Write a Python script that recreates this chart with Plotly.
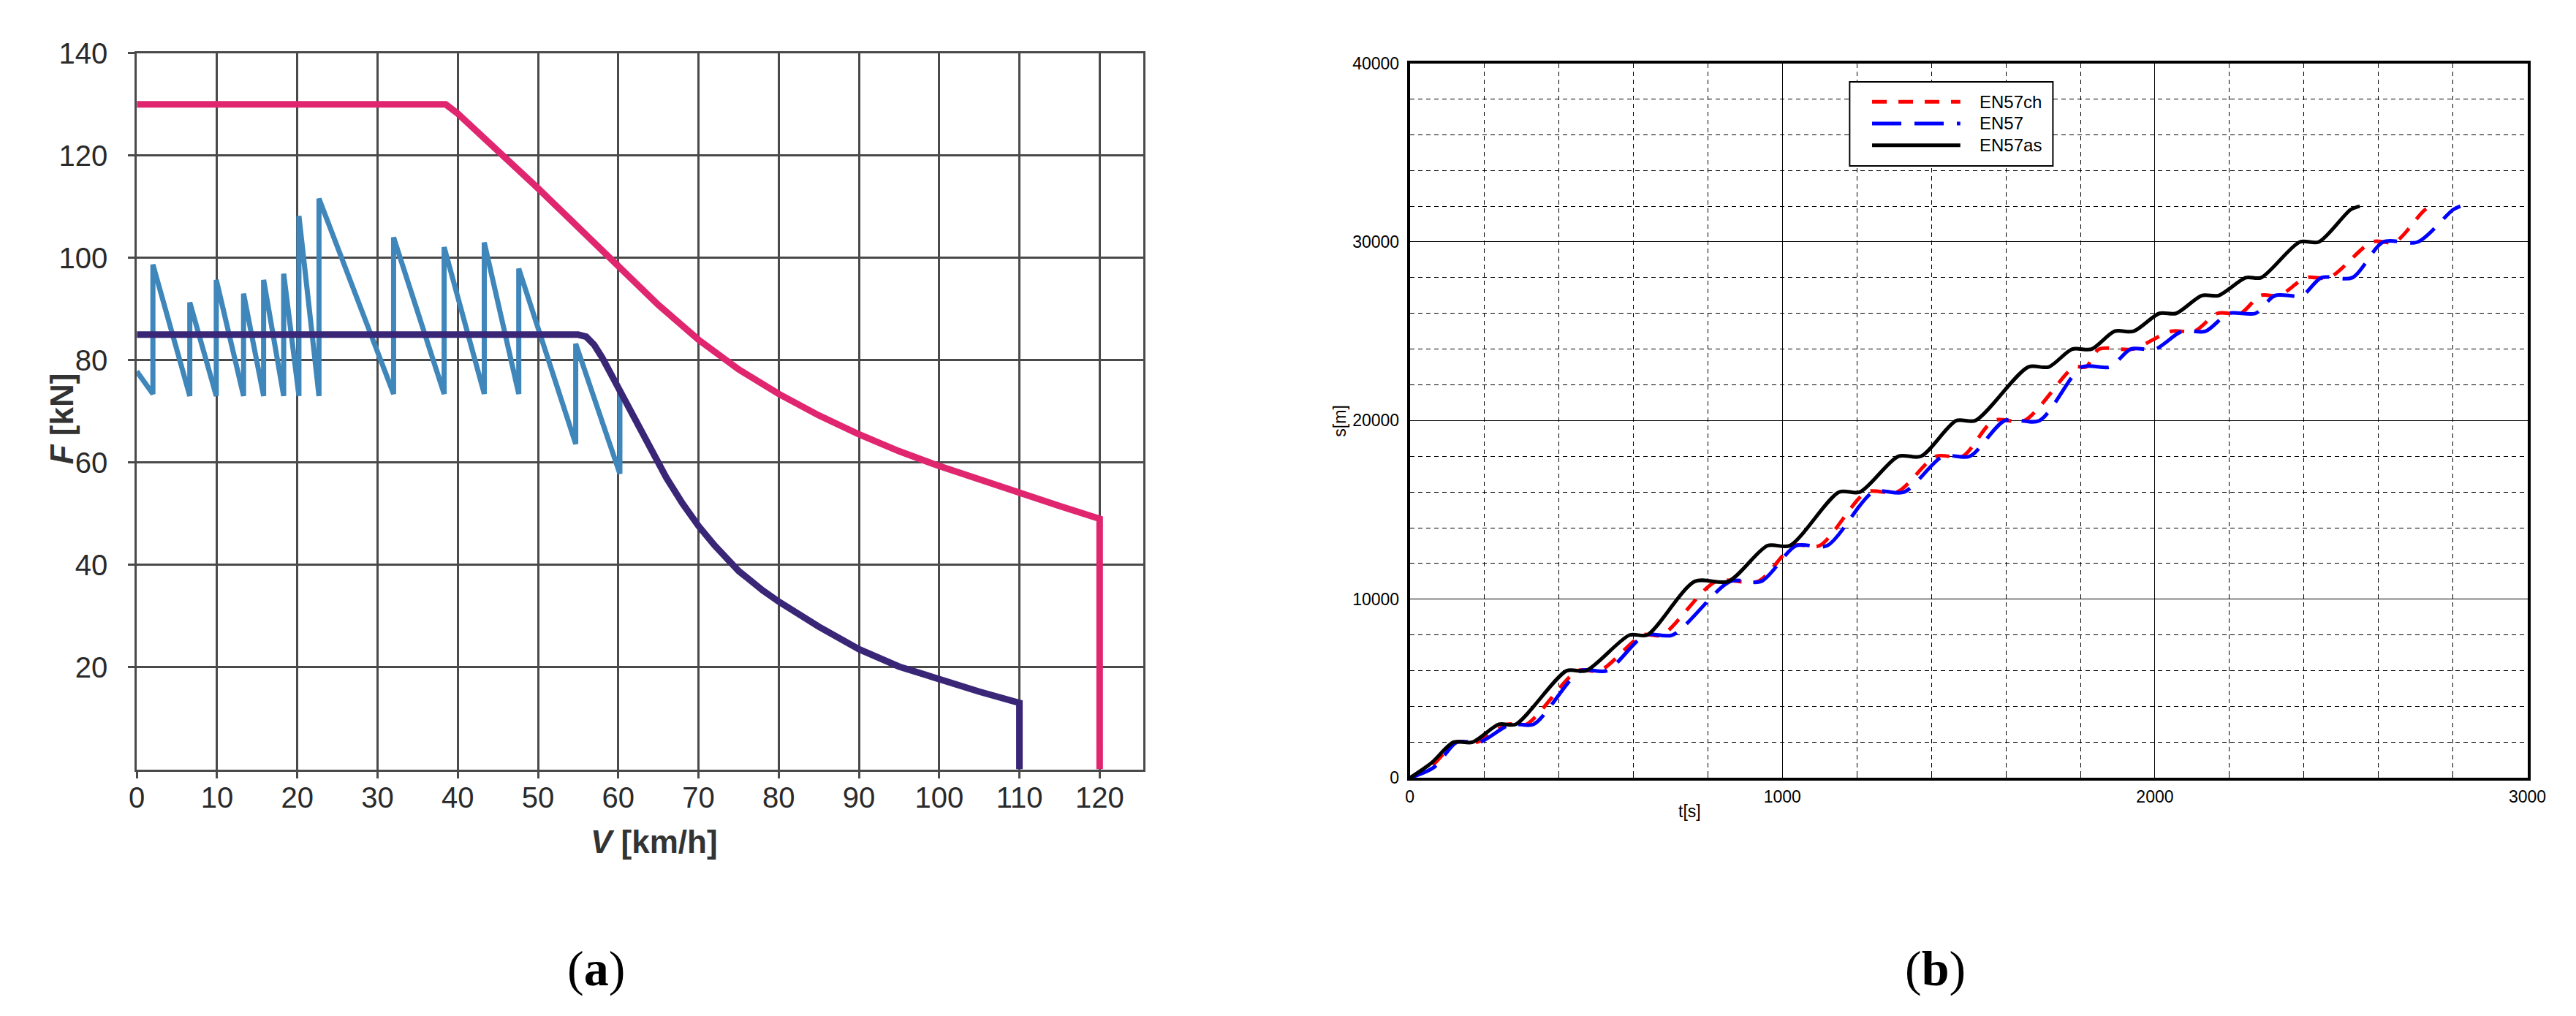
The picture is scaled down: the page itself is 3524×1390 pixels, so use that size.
import plotly.graph_objects as go

W, H = 3524, 1390

# ---- panel (a): traction force vs speed ----
pink_v = [0, 38.5, 40, 45, 50, 55, 60, 65, 70, 75, 80, 85, 90, 95, 100, 105, 110, 115, 120, 120]
pink_f = [130, 130, 128.2, 121, 113.6, 106.0, 98.4, 90.8, 84.0, 78.2, 73.4, 69.2, 65.5,
          62.2, 59.3, 56.6, 54.0, 51.5, 49.0, 0]

purple_v = [0, 55, 56, 57, 58, 60, 62, 64, 66, 68, 70, 72, 75, 78, 80, 85, 90, 95, 100,
            105, 110, 110]
purple_f = [85, 85, 84.6, 83, 80.5, 74.5, 68.5, 62.5, 57, 52, 47.6, 43.8, 38.8, 35, 32.8,
            27.9, 23.5, 20.1, 17.6, 15.2, 13.0, 0]

blue_v = [0, 2, 2, 6.6, 6.6, 9.9, 9.9, 13.3, 13.3, 15.8, 15.8, 18.3, 18.3, 20.2, 20.2,
          22.7, 22.7, 32, 32, 38.3, 38.3, 43.3, 43.3, 47.6, 47.6, 54.7, 54.7, 60.2, 60.2]
blue_f = [77.8, 73.4, 98.7, 73, 91.3, 73, 95.7, 73, 93, 73, 95.7, 73, 96.9, 73, 108.2,
          73, 111.6, 73.4, 104, 73.4, 102.1, 73.4, 103, 73.4, 97.9, 63.6, 83.2, 57.8, 73.9]

# ---- panel (b): distance vs time ----
ch_t = [0, 60, 124, 180, 262, 313, 450, 510, 625, 677, 822, 935, 1030, 1100, 1226, 1308,
        1412, 1484, 1567, 1650, 1783, 1815, 1850, 1940, 2044, 2106, 2168, 2230, 2283, 2334,
        2406, 2468, 2583, 2645, 2725, 2748]
ch_s = [0, 700, 2000, 2000, 3000, 3000, 6000, 6000, 8000, 8000, 11000, 11000, 13000, 13000,
        16000, 16000, 18000, 18000, 20000, 20000, 23000, 23000, 24000, 24000, 25000, 25000,
        26000, 26000, 27000, 27000, 28000, 28000, 30000, 30000, 31800, 32000]

en_t = [0, 65, 126, 187, 270, 332, 458, 529, 632, 705, 860, 943, 1037, 1120, 1244, 1327,
        1431, 1503, 1597, 1690, 1804, 1880, 1935, 2001, 2073, 2136, 2198, 2270, 2322, 2395,
        2447, 2530, 2613, 2706, 2800, 2820]
en_s = [0, 600, 2000, 2000, 3000, 3000, 6000, 6000, 8000, 8000, 11000, 11000, 13000, 13000,
        16000, 16000, 18000, 18000, 20000, 20000, 23000, 23000, 24000, 24000, 25000, 25000,
        26000, 26000, 27000, 27000, 28000, 28000, 30000, 30000, 31800, 32000]

as_t = [0, 58, 117, 168, 239, 284, 421, 473, 590, 637, 765, 855, 960, 1020, 1152, 1208,
        1311, 1372, 1467, 1518, 1660, 1715, 1778, 1830, 1892, 1943, 2012, 2057, 2126, 2171,
        2244, 2285, 2389, 2440, 2525, 2550]
as_s = [0, 840, 2000, 2000, 3000, 3000, 6000, 6000, 8000, 8000, 11000, 11000, 13000, 13000,
        16000, 16000, 18000, 18000, 20000, 20000, 23000, 23000, 24000, 24000, 25000, 25000,
        26000, 26000, 27000, 27000, 28000, 28000, 30000, 30000, 31800, 32000]

legend_names = ['EN57ch', 'EN57', 'EN57as']
legend_colors = ['#ff0000', '#0000ff', '#000000']
legend_dash = ['20px,16px', '40px,18px', 'solid']


def px(x):
    return x / W


def py(y):
    return (H - y) / H


fig = go.Figure()

fig.add_trace(go.Scatter(x=blue_v, y=blue_f, mode='lines', xaxis='x', yaxis='y',
                         line=dict(color='#3f86bb', width=7)))
fig.add_trace(go.Scatter(x=pink_v, y=pink_f, mode='lines', xaxis='x', yaxis='y',
                         line=dict(color='#e0266f', width=9)))
fig.add_trace(go.Scatter(x=purple_v, y=purple_f, mode='lines', xaxis='x', yaxis='y',
                         line=dict(color='#3a2676', width=9)))

for t, s, c, d, n in zip([ch_t, en_t, as_t], [ch_s, en_s, as_s],
                         legend_colors, legend_dash, legend_names):
    fig.add_trace(go.Scatter(x=t, y=s, mode='lines', name=n, xaxis='x2', yaxis='y2',
                             line=dict(color=c, width=5, dash=d, shape='spline', smoothing=0.8)))

gray = '#4a4a4a'
fig.update_layout(
    width=W, height=H, autosize=False,
    margin=dict(l=0, r=0, t=0, b=0),
    paper_bgcolor='white', plot_bgcolor='white',
    showlegend=False,
    xaxis=dict(domain=[px(170), px(1561)], range=[0, 125.4], anchor='y',
               tickvals=list(range(0, 121, 10)), showgrid=True, gridcolor=gray, gridwidth=3,
               showline=True, linecolor=gray, linewidth=3, mirror=True,
               ticks='outside', ticklen=9, tickwidth=3, tickcolor=gray, zeroline=False,
               tickfont=dict(family='Liberation Sans Narrow, Liberation Sans, Arial', size=40,
                             color='#2a2a2a'),
               ticklabelstandoff=-8),
    yaxis=dict(domain=[py(1049), py(44)], range=[0, 140], anchor='x',
               tickvals=list(range(20, 141, 20)), showgrid=True, gridcolor=gray, gridwidth=3,
               showline=True, linecolor=gray, linewidth=3, mirror=True,
               ticks='outside', ticklen=9, tickwidth=3, tickcolor=gray, zeroline=False,
               tickfont=dict(family='Liberation Sans Narrow, Liberation Sans, Arial', size=40,
                             color='#2a2a2a'),
               ticklabelstandoff=20),
    xaxis2=dict(domain=[px(1930), px(3475)], range=[0, 3000], anchor='y2',
                tickvals=[0, 1000, 2000, 3000], tickformat='d',
                showgrid=True, gridcolor='black', gridwidth=1,
                minor=dict(dtick=200, showgrid=True, gridcolor='black', gridwidth=1,
                           griddash='6px,5px', ticks='inside', ticklen=5, tickcolor='black'),
                showline=True, linecolor='black', linewidth=4, mirror=True,
                ticks='inside', ticklen=6, tickcolor='black', zeroline=False,
                tickfont=dict(family='Liberation Sans, Arial', size=23, color='black'),
                ticklabelstandoff=2),
    yaxis2=dict(domain=[py(1061), py(58)], range=[0, 40000], anchor='x2',
                tickvals=[0, 10000, 20000, 30000, 40000], tickformat='d',
                showgrid=True, gridcolor='black', gridwidth=1,
                minor=dict(dtick=2000, showgrid=True, gridcolor='black', gridwidth=1,
                           griddash='6px,5px', ticks='inside', ticklen=5, tickcolor='black'),
                showline=True, linecolor='black', linewidth=4, mirror=True,
                ticks='inside', ticklen=6, tickcolor='black', zeroline=False,
                tickfont=dict(family='Liberation Sans, Arial', size=23, color='black'),
                ticklabelstandoff=6),
)

notes = [
    dict(text='<b><i>F</i> [kN]</b>', x=px(67), y=py(557), textangle=-90,
         font=dict(family='Liberation Sans, Arial', size=44, color='#333333')),
    dict(text='<b><i>V</i> [km/h]</b>', x=px(885), y=py(1150),
         font=dict(family='Liberation Sans, Arial', size=44, color='#333333')),
    dict(text='s[m]', x=px(1833), y=py(560), textangle=-90,
         font=dict(family='Liberation Sans, Arial', size=23, color='black')),
    dict(text='t[s]', x=px(2317), y=py(1108),
         font=dict(family='Liberation Sans, Arial', size=23, color='black')),
    dict(text='(<b>a</b>)', x=px(805), y=py(1328),
         font=dict(family='Liberation Serif, Times New Roman', size=68, color='black')),
    dict(text='(<b>b</b>)', x=px(2656), y=py(1328),
         font=dict(family='Liberation Serif, Times New Roman', size=68, color='black')),
]
for a in notes:
    fig.add_annotation(xref='paper', yref='paper', showarrow=False,
                       xanchor='center', yanchor='middle', **a)

# legend box drawn like the MATLAB one
fig.add_shape(type='rect', xref='paper', yref='paper',
              x0=px(2538), x1=px(2819), y0=py(202), y1=py(84),
              line=dict(color='black', width=2), fillcolor='white', layer='above')
for i, (n, c, d) in enumerate(zip(legend_names, legend_colors, legend_dash)):
    yy = py(112 + 30.5 * i)
    fig.add_shape(type='line', xref='paper', yref='paper', x0=px(2569), x1=px(2691),
                  y0=yy, y1=yy, line=dict(color=c, width=5, dash=d), layer='above')
    fig.add_annotation(xref='paper', yref='paper', x=px(2716), y=yy, text=n,
                       showarrow=False, xanchor='left', yanchor='middle',
                       font=dict(family='Liberation Sans, Arial', size=24, color='black'))

fig.write_html("out.html")
